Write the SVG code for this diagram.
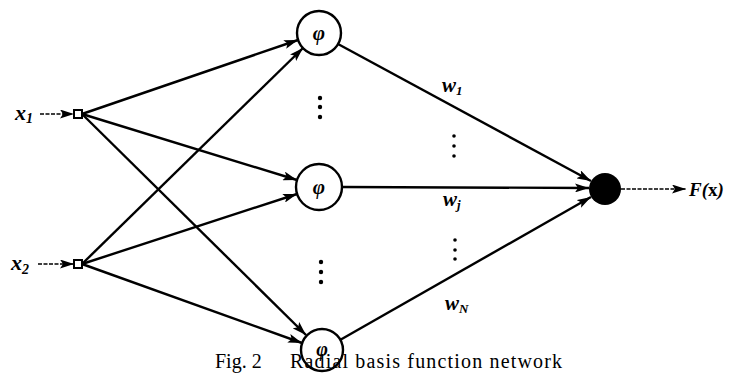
<svg xmlns="http://www.w3.org/2000/svg" width="736" height="374" viewBox="0 0 736 374">
<style>
.edge{stroke:#000;stroke-width:2.4;fill:none}
.inarrow{stroke:#000;stroke-width:1.6;fill:none;stroke-dasharray:4 1.5}
.node{fill:#fff;stroke:#000;stroke-width:2.4}
.lbl{font-family:"Liberation Serif",serif;font-style:italic;font-weight:bold;fill:#000}
.cap{font-family:"Liberation Serif",serif;font-size:20px;fill:#000}
.dot{fill:#000}
</style>
<defs>
<marker id="ah" viewBox="0 0 14 9" refX="14" refY="4.5" markerWidth="14" markerHeight="9" markerUnits="userSpaceOnUse" orient="auto">
<path d="M0,0 L14,4.5 L0,9 L3,4.5 Z" fill="#000"/>
</marker>
</defs>
<g id="connectors">
<line class="inarrow" x1="40" y1="114" x2="74" y2="114" marker-end="url(#ah)"/>
<line class="inarrow" x1="38" y1="264" x2="74" y2="264" marker-end="url(#ah)"/>
<line class="edge" x1="82" y1="114" x2="298" y2="40" marker-end="url(#ah)"/>
<line class="edge" x1="82" y1="114" x2="297" y2="180" marker-end="url(#ah)"/>
<line class="edge" x1="82" y1="114" x2="306" y2="335" marker-end="url(#ah)"/>
<line class="edge" x1="82" y1="264" x2="303" y2="48" marker-end="url(#ah)"/>
<line class="edge" x1="82" y1="264" x2="297" y2="194" marker-end="url(#ah)"/>
<line class="edge" x1="82" y1="264" x2="302" y2="343" marker-end="url(#ah)"/>
<line class="edge" x1="338" y1="44" x2="591" y2="181" marker-end="url(#ah)"/>
<line class="edge" x1="342" y1="187" x2="589" y2="188" marker-end="url(#ah)"/>
<line class="edge" x1="340" y1="340" x2="591" y2="197" marker-end="url(#ah)"/>
<line class="inarrow" x1="621" y1="189" x2="686" y2="189" marker-end="url(#ah)"/>
</g>
<g id="x1"><rect x="74" y="110" width="8" height="8" fill="#fff" stroke="#000" stroke-width="2"/>
<text class="lbl" x="15" y="120" font-size="22">x<tspan font-size="14" dy="3">1</tspan></text></g>
<g id="x2"><rect x="74" y="260" width="8" height="8" fill="#fff" stroke="#000" stroke-width="2"/>
<text class="lbl" x="11" y="270" font-size="22">x<tspan font-size="14" dy="4">2</tspan></text></g>
<g id="phi1"><circle class="node" cx="319" cy="33" r="22"/><text class="lbl" x="319" y="40" font-size="21" text-anchor="middle">φ</text></g>
<g id="phi2"><circle class="node" cx="319" cy="187" r="23"/><text class="lbl" x="319" y="194" font-size="21" text-anchor="middle">φ</text></g>
<g id="phiN"><circle class="node" cx="322" cy="350" r="21"/><text class="lbl" x="322" y="356" font-size="20" text-anchor="middle">φ</text></g>
<g id="output"><circle cx="605" cy="189" r="16" fill="#000"/></g>
<g id="Fx"><text class="lbl" x="689" y="196" font-size="19">F(<tspan font-style="normal">x</tspan>)</text></g>
<g id="weights">
<text class="lbl" x="442" y="92" font-size="21">w<tspan font-size="13" dy="3">1</tspan></text>
<text class="lbl" x="443" y="206" font-size="21">w<tspan font-size="13" dy="3">j</tspan></text>
<text class="lbl" x="445" y="310" font-size="21">w<tspan font-size="13" dy="3">N</tspan></text>
</g>
<g id="dots">
<circle class="dot" cx="320" cy="98" r="2.2"/><circle class="dot" cx="320" cy="107" r="2.2"/><circle class="dot" cx="320" cy="117" r="2.2"/>
<circle class="dot" cx="321" cy="262" r="2.2"/><circle class="dot" cx="321" cy="272" r="2.2"/><circle class="dot" cx="321" cy="282" r="2.2"/>
<circle class="dot" cx="454" cy="136" r="1.8"/><circle class="dot" cx="454" cy="146" r="1.8"/><circle class="dot" cx="454" cy="156" r="1.8"/>
<circle class="dot" cx="455" cy="240" r="1.8"/><circle class="dot" cx="455" cy="250" r="1.8"/><circle class="dot" cx="455" cy="259" r="1.8"/>
</g>
<g id="caption">
<text class="cap" x="215" y="368">Fig. 2</text>
<text class="cap" x="290" y="368" textLength="272">Radial basis function network</text>
</g>
</svg>
